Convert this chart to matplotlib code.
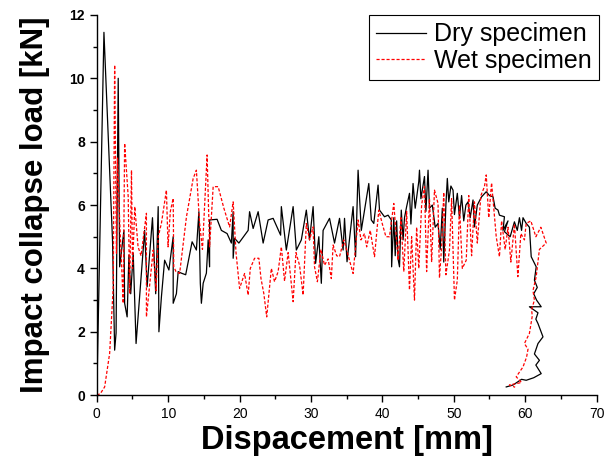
import matplotlib
matplotlib.use("Agg")
import matplotlib.pyplot as plt
from matplotlib.ticker import MultipleLocator

plt.rcParams['font.family'] = ['Liberation Sans', 'DejaVu Sans']

# ---- data ----
dry_x = [0, 1.0, 2.2, 2.5, 2.7, 3.0, 3.2, 3.8, 3.9, 4.25,
         4.5, 4.75, 5.1, 5.5, 6.7, 7.05, 7.8, 8.25, 8.6, 8.7,
         9.05, 9.5, 10.1, 10.7, 10.7, 11.15, 11.4, 11.85, 12.45, 13.35,
         13.95, 14.3, 14.5, 14.65, 14.9, 15.35, 15.6, 15.8, 15.8, 16.85,
         17.45, 18.25, 18.85, 19.1, 19.1, 19.3, 19.9, 21.2, 21.4, 21.9,
         22.6, 23.3, 24.0, 24.7, 25.75, 25.85, 26.55, 27.5, 27.95, 28.65,
         29.35, 29.8, 30.3, 30.65, 31.1, 31.45, 31.7, 32.6, 33.3, 34.0,
         34.5, 34.7, 35.05, 35.9, 36.25, 36.6, 37.05, 38.1, 38.45, 38.8,
         39.4, 39.6, 40.3, 40.8, 41.25, 41.3, 41.6, 41.8, 42.0, 42.2,
         42.4, 42.65, 42.9, 43.1, 43.4, 43.8, 44.0, 44.3, 44.6, 45.1,
         45.2, 45.4, 45.9, 46.1, 46.4, 46.6, 47.0, 47.4, 47.8, 48.1,
         48.4, 48.6, 48.9, 49.1, 49.3, 49.6, 49.9, 50.1, 50.5, 50.8,
         51.1, 51.4, 51.7, 52.0, 52.3, 52.7, 52.9, 53.3, 53.9, 54.55,
         55.0, 55.5, 55.8, 56.2, 56.4, 57.1, 56.9, 57.6, 57.1, 57.9,
         58.5, 58.9, 59.2, 59.5, 59.7, 60.15, 60.6, 60.85, 61.55, 61.3,
         61.7, 61.2, 61.6, 62.25, 60.6, 61.8, 61.5, 61.8, 62.5, 61.8,
         61.3, 62.0, 61.5, 62.25, 61.2, 60.15, 59.5, 58.3, 57.35]
dry_y = [0, 11.45, 4.9, 1.42, 1.96, 10.0, 4.05, 5.2, 2.9, 2.47,
         4.42, 3.2, 4.48, 1.63, 5.2, 3.42, 5.6, 3.2, 5.95, 2.0,
         3.1, 4.26, 3.95, 5.0, 2.9, 3.2, 3.9, 3.85, 3.8, 4.84,
         4.58, 5.79, 3.53, 2.9, 3.53, 3.85, 4.9, 4.05, 5.53, 5.55,
         5.2, 5.1, 4.8, 5.79, 4.32, 4.95, 4.8, 5.2, 5.79, 5.26,
         5.79, 4.8, 5.53, 5.58, 5.05, 5.95, 4.58, 5.95, 4.58, 4.9,
         5.84, 4.9, 5.95, 4.16, 5.0, 3.53, 5.2, 5.58, 4.8, 5.58,
         4.58, 5.58, 4.21, 5.95, 4.37, 7.1, 5.2, 6.68, 5.53, 5.42,
         6.63, 5.84, 5.63, 5.68, 5.53, 4.05, 5.6, 4.4, 5.5, 4.3,
         4.05, 5.84, 4.9, 5.6, 5.95, 6.37, 5.4, 6.68, 5.9, 6.74,
         7.1, 6.2, 6.9, 5.8, 7.1, 5.9, 6.0, 5.3, 5.42, 4.6,
         5.9, 4.2, 6.0, 6.84, 6.1, 6.6, 6.47, 5.7, 6.37, 5.6,
         6.3, 5.5, 6.0, 6.1, 5.6, 6.16, 5.31, 6.0, 6.26, 6.42,
         6.3, 6.26, 5.9, 5.84, 5.68, 5.63, 5.2, 5.5, 5.16, 5.0,
         5.47, 5.2, 5.6, 5.2, 5.6, 5.42, 5.3, 4.37, 4.05, 3.63,
         3.4, 3.2, 3.0, 2.79, 2.79, 2.6, 2.4, 2.26, 1.84, 1.63,
         1.3, 1.1, 0.95, 0.68, 0.55, 0.47, 0.5, 0.32, 0.26]

wet_x = [0, 0.5, 1.1, 1.8, 2.3, 2.5, 2.75, 2.9, 3.2, 3.7,
         3.9, 4.4, 4.6, 4.86, 5.0, 5.32, 5.78, 6.2, 6.95, 6.95,
         7.42, 7.9, 8.3, 8.6, 9.05, 9.75, 9.98, 10.3, 10.7, 10.78,
         11.1, 11.6, 12.56, 13.5, 13.95, 14.4, 14.8, 15.45, 15.8, 16.3,
         17.0, 17.8, 18.6, 19.1, 19.5, 20.0, 20.7, 21.2, 21.5, 22.1,
         22.7, 23.0, 23.4, 23.8, 24.45, 24.9, 25.4, 25.85, 26.3, 26.8,
         27.5, 27.9, 28.4, 28.9, 29.35, 29.8, 30.3, 30.5, 30.9, 31.4,
         31.9, 32.4, 32.85, 33.1, 33.6, 34.0, 34.6, 35.1, 35.9, 36.6,
         37.0, 37.5, 37.8, 38.3, 38.9, 39.5, 40.0, 40.5, 41.0, 41.6,
         42.2, 42.6, 43.0, 43.4, 43.8, 44.1, 44.5, 44.8, 45.1, 45.5,
         45.9, 46.2, 46.6, 46.9, 47.3, 47.8, 48.0, 48.3, 48.6, 48.9,
         49.4, 49.7, 50.1, 50.5, 50.8, 51.2, 51.75, 52.1, 52.5, 52.9,
         53.3, 53.8, 54.3, 54.55, 54.9, 55.3, 55.95, 56.4, 56.7, 57.2,
         57.6, 58.0, 58.5, 58.98, 59.4, 59.9, 60.15, 60.8, 61.5, 62.2,
         62.95, 62.0, 61.55, 61.1, 61.3, 60.9, 61.0, 60.6, 59.9, 60.4,
         60.2, 59.7, 58.75, 59.5, 57.8, 58.6]
wet_y = [0, 0.05, 0.26, 1.32, 3.42, 10.42, 4.48, 7.5, 5.53, 2.9,
         7.95, 6.26, 3.2, 7.1, 4.0, 5.95, 4.68, 4.4, 5.74, 2.47,
         3.53, 4.58, 3.3, 5.0, 5.42, 6.47, 4.68, 5.8, 6.21, 4.05,
         3.9, 3.84, 5.63, 6.84, 7.1, 5.42, 4.6, 7.58, 4.68, 6.58,
         6.58, 5.9, 5.31, 6.1, 4.5, 3.37, 3.84, 3.16, 4.0, 4.32,
         4.32, 3.68, 3.2, 2.47, 4.0, 3.58, 3.9, 4.68, 3.6, 4.5,
         2.95, 4.5, 4.1, 3.16, 5.42, 4.9, 5.31, 4.05, 3.58, 4.6,
         4.1, 4.3, 3.68, 4.74, 4.4, 4.37, 4.9, 4.5, 3.84, 5.53,
         4.9, 5.1, 4.68, 5.2, 4.37, 5.84, 5.4, 5.0, 5.0, 6.05,
         4.26, 5.6, 3.9, 5.8, 3.32, 5.0, 3.0, 5.3, 4.0, 6.0,
         6.58, 3.9, 6.2, 4.2, 6.47, 6.05, 3.7, 4.68, 6.4, 3.8,
         4.58, 6.2, 3.0, 3.63, 6.0, 4.0, 4.26, 6.3, 4.4, 6.1,
         4.8, 6.3, 6.58, 6.95, 5.6, 6.7, 5.0, 4.37, 5.5, 4.6,
         5.3, 4.2, 5.4, 3.74, 5.1, 4.9, 5.42, 5.5, 5.0, 5.3,
         4.8, 4.6, 3.74, 3.3, 3.0, 2.7, 2.5, 1.95, 1.63, 1.45,
         1.2, 0.89, 0.58, 0.4, 0.32, 0.25]

x_ticks = [0, 10, 20, 30, 40, 50, 60, 70]
y_ticks = [0, 2, 4, 6, 8, 10, 12]

fig = plt.figure(figsize=(6.05, 4.66), dpi=100)
ax = fig.add_axes([0.160, 0.152, 0.826, 0.816])

ax.plot(dry_x, dry_y, color='black', lw=0.9, label='Dry specimen')
ax.plot(wet_x, wet_y, color='red', lw=0.9, dashes=(2.5, 1.5), label='Wet specimen')

ax.set_xlim(0, 70)
ax.set_ylim(0, 12)
ax.set_xticks(x_ticks)
ax.set_yticks(y_ticks)
ax.xaxis.set_minor_locator(MultipleLocator(5))
ax.yaxis.set_minor_locator(MultipleLocator(1))
ax.tick_params(which='major', direction='out', length=5, width=1, labelsize=10)
ax.tick_params(which='minor', direction='out', length=3, width=1)
for lab in ax.get_yticklabels():
    lab.set_fontweight('bold')

ax.spines['top'].set_visible(False)
ax.spines['right'].set_visible(False)
ax.spines['left'].set_linewidth(1)
ax.spines['bottom'].set_linewidth(1)

ax.set_xlabel('Dispacement [mm]', fontsize=23.5, fontweight='bold', labelpad=3)
ax.set_ylabel('Impact collapse load [kN]', fontsize=22.5, fontweight='bold', labelpad=14)

leg = ax.legend(loc='upper right', bbox_to_anchor=(1.005, 1.0), fontsize=18,
                frameon=True, fancybox=False, edgecolor='black', framealpha=1,
                borderpad=0.3, labelspacing=0.1, handlelength=2.0, handletextpad=0.3,
                borderaxespad=0)
leg.get_frame().set_linewidth(0.8)

fig.savefig('out.png', dpi=100)
